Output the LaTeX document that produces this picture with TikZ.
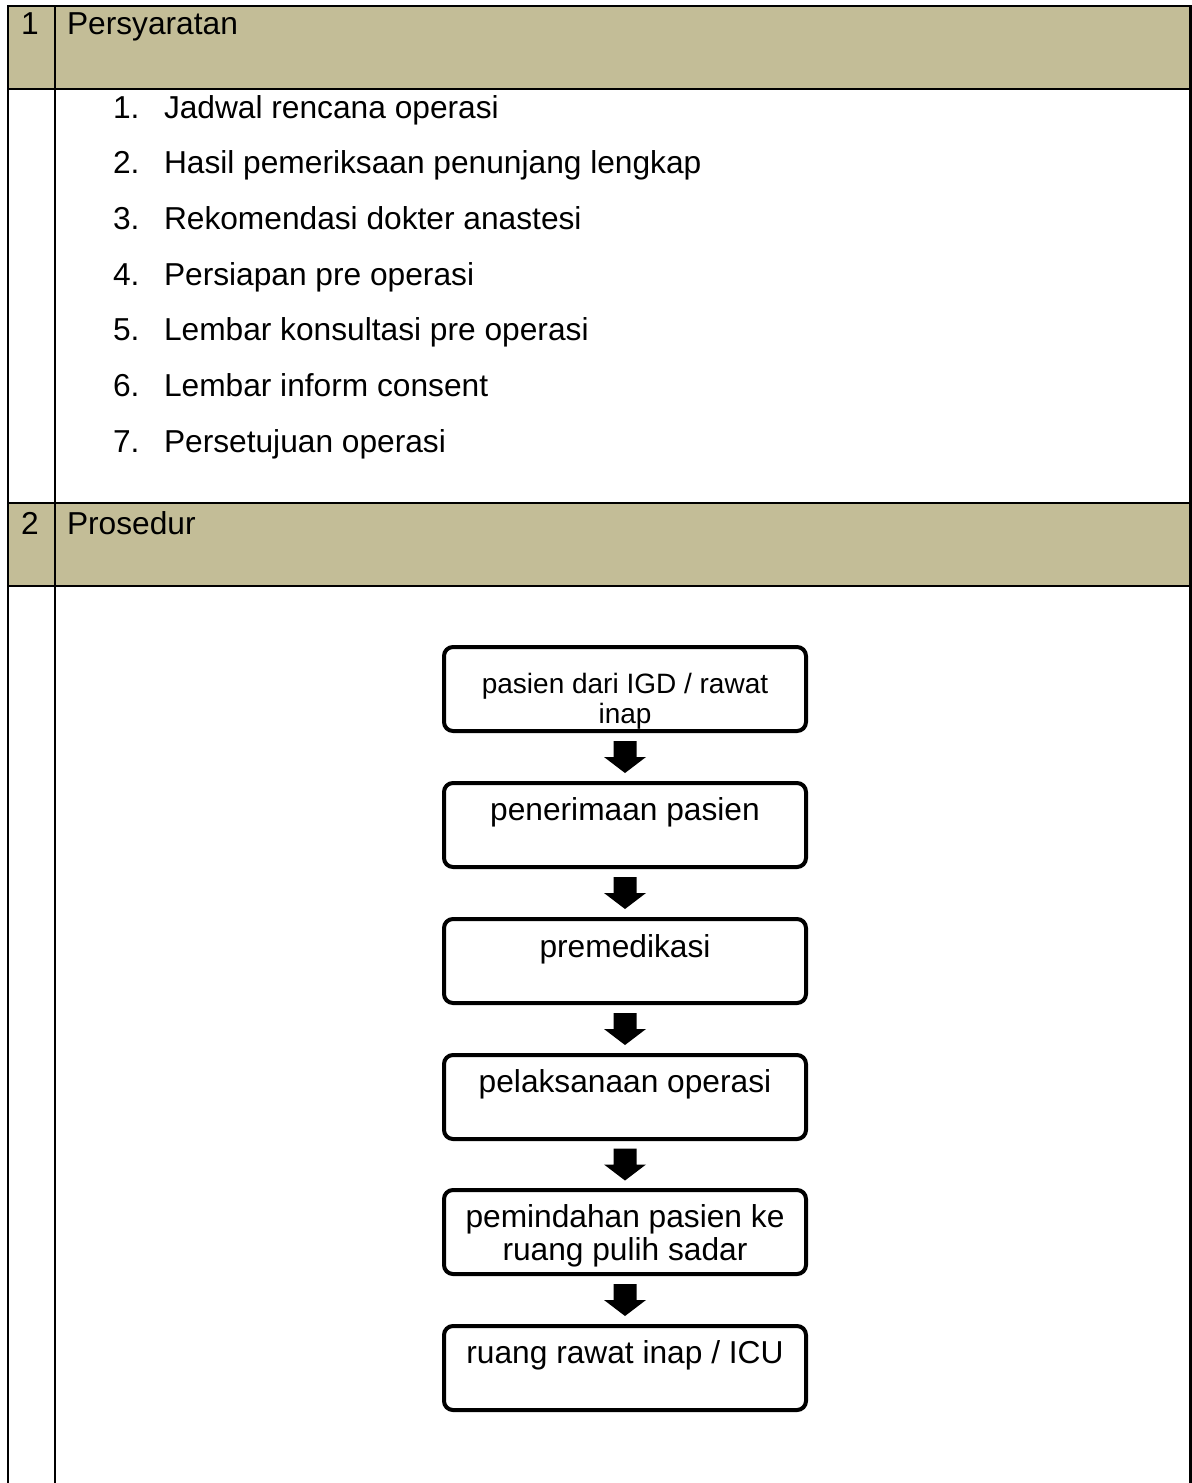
\documentclass[tikz,border=0pt]{standalone}
\usepackage{fontspec}
\setmainfont{Liberation Sans}
\usepackage{tikz}
\usetikzlibrary{calc}
\definecolor{hdrc}{RGB}{195,189,151}

\begin{document}
\begin{tikzpicture}[x=0.5pt, y=-0.5pt, every node/.style={inner sep=0pt, outer sep=0pt},
  txt/.style={font=\fontsize{15.85}{18}\selectfont, anchor=base west},
  box/.style={draw, line width=2pt, rounded corners=4.5pt, minimum width=181pt, minimum height=42pt},
  btxt/.style={font=\fontsize{15.85}{16.5}\selectfont, anchor=base, align=center},
  thin/.style={line width=0.9pt}, thick/.style={line width=1.35pt}]
  \useasboundingbox (0,0) rectangle (1192,1483);
  \fill[hdrc] (8,6) rectangle (1190,89);
  \fill[hdrc] (8,503) rectangle (1190,586);
  \draw[thin] (8,6) -- (1190,6) (8,503) -- (1190,503);
  \draw[thick] (8,89) -- (1190,89) (8,586) -- (1190,586);
  \draw[thick] (8,5) -- (8,1483) (55,5) -- (55,1483) (1190.5,5) -- (1190.5,1483);
  \node[txt, anchor=base] (k1) at (30,34) {1};
  \node[txt] (h1) at (67,34) {Persyaratan};
  \node[txt, anchor=base] (k2) at (30,534) {2};
  \node[txt] (h2) at (67,534) {Prosedur};
  \foreach \t [count=\n] in {Jadwal rencana operasi, Hasil pemeriksaan penunjang lengkap,
      Rekomendasi dokter anastesi, Persiapan pre operasi, Lembar konsultasi pre operasi,
      Lembar inform consent, Persetujuan operasi} {
    \node[txt] (n\n) at (113,62.33+55.67*\n) {\n.};
    \node[txt] (i\n) at (164,62.33+55.67*\n) {\t};
  }
  \node[box] (b1) at (625,689) {};
  \node[box] (b2) at (625,825) {};
  \node[box] (b3) at (625,961) {};
  \node[box] (b4) at (625,1097) {};
  \node[box] (b5) at (625,1232) {};
  \node[box] (b6) at (625,1368) {};
  \node[btxt, font=\fontsize{14}{15}\selectfont] (t1) at ($(b1.center)+(0,34)$) {pasien dari IGD / rawat\\inap};
  \node[btxt] (t2) at ($(b2.center)+(0,-5)$) {penerimaan pasien};
  \node[btxt] (t3) at ($(b3.center)+(0,-4)$) {premedikasi};
  \node[btxt] (t4) at ($(b4.center)+(0,-5)$) {pelaksanaan operasi};
  \node[btxt] (t5) at ($(b5.center)+(0,28)$) {pemindahan pasien ke\\ruang pulih sadar};
  \node[btxt] (t6) at ($(b6.center)+(0,-5)$) {ruang rawat inap / ICU};
  \foreach \a/\b in {b1/b2, b2/b3, b3/b4, b4/b5, b5/b6}
    \fill ($(\a.south)!0.5!(\b.north)$) ++(-11.5,-16) -- ++(23,0) -- ++(0,16) -- ++(9.5,0)
      -- ++(-21,16) -- ++(-21,-16) -- ++(9.5,0) -- cycle;
\end{tikzpicture}
\end{document}
